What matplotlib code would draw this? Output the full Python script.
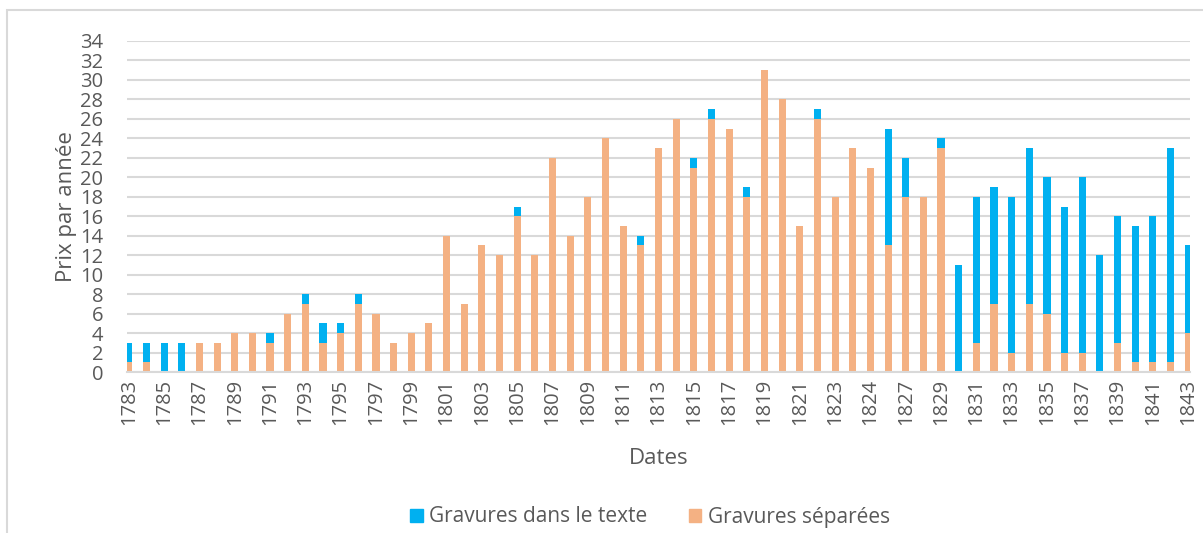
import numpy as np
import matplotlib.pyplot as plt
from matplotlib.patches import Patch, Rectangle

plt.rcParams['font.family'] = ['Open Sans', 'DejaVu Sans']

# category labels (every other one shown, as in the original)
dates = [str(y) for y in range(1783, 1844)]
dates[42] = "1824"

# Gravures séparées (orange, bottom)
separees = [1, 1, 0, 0, 3, 3, 4, 4, 3, 6,
            7, 3, 4, 7, 6, 3, 4, 5, 14, 7,
            13, 12, 16, 12, 22, 14, 18, 24, 15, 13,
            23, 26, 21, 26, 25, 18, 31, 28, 15, 26,
            18, 23, 21, 13, 18, 18, 23, 0, 3, 7,
            2, 7, 6, 2, 2, 0, 3, 1, 1, 1, 4]
# totals per year (both series)
totaux = [3, 3, 3, 3, 3, 3, 4, 4, 4, 6,
          8, 5, 5, 8, 6, 3, 4, 5, 14, 7,
          13, 12, 17, 12, 22, 14, 18, 24, 15, 14,
          23, 26, 22, 27, 25, 19, 31, 28, 15, 27,
          18, 23, 21, 25, 22, 18, 24, 11, 18, 19,
          18, 23, 20, 17, 20, 12, 16, 15, 16, 23, 13]
texte = [t - s for t, s in zip(totaux, separees)]

blue = "#00B0F0"
orange = "#F4B183"
grey = "#595959"

fig = plt.figure(figsize=(12.03, 5.33), dpi=100)
ax = fig.add_axes([127/1203, 161/533, 1063/1203, 331/533])

x = np.arange(len(dates))
ax.bar(x, separees, width=0.4, color=orange, zorder=2)
ax.bar(x, texte, width=0.4, bottom=separees, color=blue, zorder=2)

ax.set_xlim(-0.1, len(dates) - 0.9)
ax.set_ylim(0, 34)
ax.set_yticks(range(0, 35, 2))
ax.set_xticks(x[::2])
ax.set_xticklabels(dates[::2], rotation=90)
ax.tick_params(axis='both', length=0, labelsize=14.5, colors=grey)
ax.tick_params(axis='y', pad=17)
ax.tick_params(axis='x', pad=5)
ax.grid(axis='y', color="#D9D9D9", linewidth=1.5, zorder=0)
for s in ['top', 'right', 'left']:
    ax.spines[s].set_visible(False)
ax.spines['bottom'].set_color("#D9D9D9")
ax.spines['bottom'].set_linewidth(1.5)

ax.set_xlabel("Dates", fontsize=16, color=grey, labelpad=16)
ax.set_ylabel("Prix par année", fontsize=16, color=grey, labelpad=2)

handles = [Patch(color=blue, label="Gravures dans le texte"),
           Patch(color=orange, label="Gravures séparées")]
leg = fig.legend(handles=handles, loc='center', bbox_to_anchor=(650/1203, 1 - 517/533),
                 ncol=2, frameon=False, fontsize=15, handlelength=0.6,
                 handleheight=0.6, handletextpad=0.3, columnspacing=2.0)
for t in leg.get_texts():
    t.set_color(grey)

# chart frame
fig.patches.append(Rectangle((7/1203, -0.1), 1.2, 1 - 10/533 + 0.1,
                             transform=fig.transFigure, fill=False,
                             edgecolor="#D9D9D9", linewidth=1.5))

fig.savefig("out.png", dpi=100)
